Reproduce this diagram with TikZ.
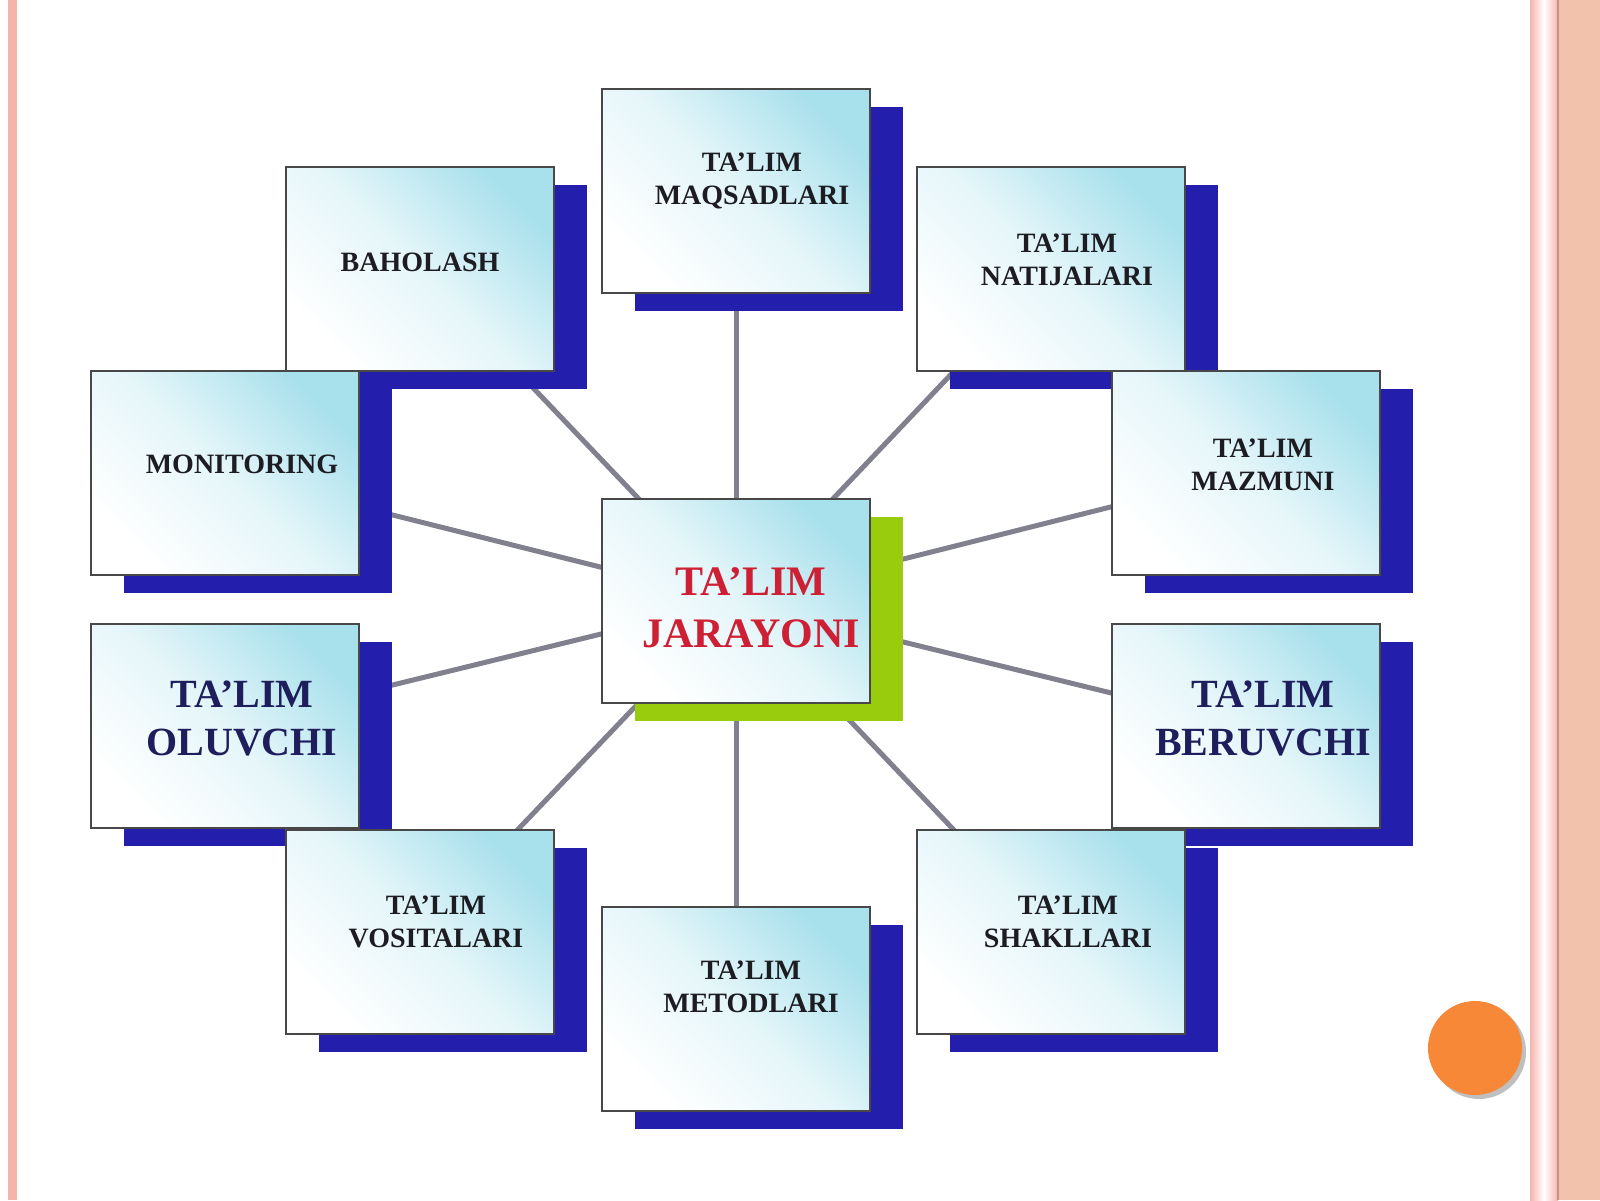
\documentclass[tikz,border=0pt]{standalone}
\usepackage{fontspec}
\setmainfont{Liberation Serif}
\usepackage{xcolor}
\usetikzlibrary{shapes,positioning,calc,shadows,backgrounds}

\definecolor{shadowblue}{RGB}{36,30,172}
\definecolor{shadowgreen}{RGB}{152,204,12}
\definecolor{boxcyan}{RGB}{168,224,236}
\definecolor{boxline}{RGB}{72,72,72}
\definecolor{spokegray}{RGB}{128,128,142}
\definecolor{navytext}{RGB}{30,30,92}
\definecolor{redtext}{RGB}{206,32,52}
\definecolor{darktext}{RGB}{28,28,34}
\definecolor{stripe}{RGB}{244,180,172}
\definecolor{salmon}{RGB}{242,194,172}
\definecolor{dot}{RGB}{246,136,56}

\tikzset{
  box/.style={draw=boxline, line width=1.2pt, minimum width=134pt, minimum height=102pt,
    top color=boxcyan, bottom color=white, middle color=boxcyan!30, shading angle=-45,
    drop shadow={shadow xshift=16.5pt, shadow yshift=-9pt, fill=#1, opacity=1}},
  box/.default=shadowblue,
  small/.style={font=\fontsize{14}{16.5}\selectfont\bfseries, text=darktext, align=center},
  big/.style={font=\fontsize{20}{24}\selectfont\bfseries, text=navytext, align=center},
  title/.style={font=\fontsize{21}{26}\selectfont\bfseries, text=redtext, align=center},
  spoke/.style={draw=spokegray, line width=2.5pt}
}

\begin{document}
\begin{tikzpicture}[x=0.5pt,y=-0.5pt]
  \useasboundingbox (0,0) rectangle (1600,1200);
  % slide edges
  \fill[stripe] (8,0) rectangle (17,1200);
  \shade[left color=stripe, right color=stripe, middle color=white] (1530,0) rectangle (1558,1200);
  \fill[salmon] (1558,0) rectangle (1600,1200);
  \draw[stripe!80!black, line width=0.6pt] (1558,0) -- (1558,1200);

  % centre
  \node[box=shadowgreen, label={[title,xshift=7.5pt,yshift=-3.5pt]center:{TA’LIM\\JARAYONI}}] (jarayon) at (736,601) {};

  % outer boxes
  \node[box, label={[small,xshift=8pt,yshift=5pt]center:{TA’LIM\\MAQSADLARI}}] (maqsad) at (736,191) {};
  \node[box, label={[small,yshift=3.5pt]center:{BAHOLASH}}] (baho) at (420,269) {};
  \node[box, label={[small,xshift=8pt,yshift=4.5pt]center:{TA’LIM\\NATIJALARI}}] (natija) at (1051,269) {};
  \node[box, label={[small,xshift=8.5pt,yshift=4.5pt]center:{MONITORING}}] (monitor) at (225,473) {};
  \node[box, label={[small,xshift=8.5pt,yshift=4pt]center:{TA’LIM\\MAZMUNI}}] (mazmun) at (1246,473) {};
  \node[box, label={[big,xshift=8.5pt,yshift=4pt]center:{TA’LIM\\OLUVCHI}}] (oluvchi) at (225,726) {};
  \node[box, label={[big,xshift=8.5pt,yshift=4pt]center:{TA’LIM\\BERUVCHI}}] (beruvchi) at (1246,726) {};
  \node[box, label={[small,xshift=8pt,yshift=5pt]center:{TA’LIM\\VOSITALARI}}] (vosita) at (420,932) {};
  \node[box, label={[small,xshift=8.5pt,yshift=5pt]center:{TA’LIM\\SHAKLLARI}}] (shakl) at (1051,932) {};
  \node[box, label={[small,xshift=7.5pt,yshift=11pt]center:{TA’LIM\\METODLARI}}] (metod) at (736,1009) {};

  % spokes behind everything
  \begin{scope}[on background layer]
    \fill[white] (17,0) rectangle (1530,1200);
    \foreach \n in {maqsad,baho,natija,monitor,mazmun,oluvchi,beruvchi,vosita,shakl,metod}
      \draw[spoke] (jarayon.center) -- (\n.center);
  \end{scope}

  % orange dot
  \fill[black!25] (1479,1052) circle[radius=23.5pt];
  \fill[dot] (1475,1048) circle[radius=23.5pt];
\end{tikzpicture}
\end{document}
